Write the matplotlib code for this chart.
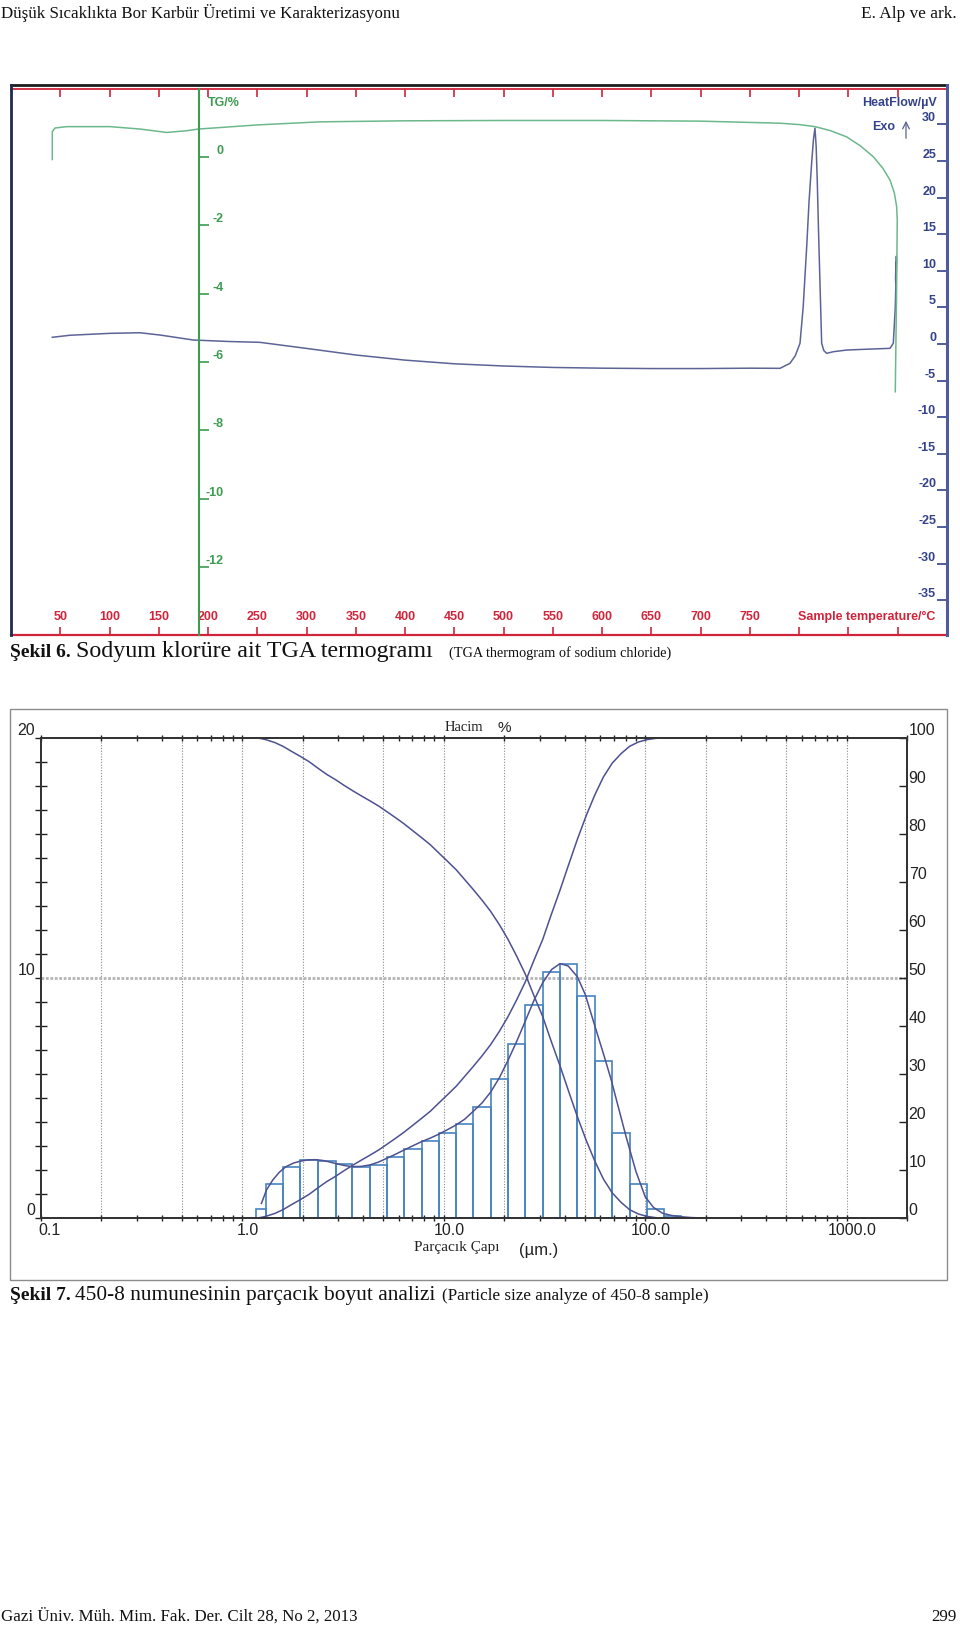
import numpy as np
import matplotlib
matplotlib.use('Agg')
import matplotlib.pyplot as plt
from matplotlib.lines import Line2D
from matplotlib.patches import Rectangle
from matplotlib.ticker import FixedLocator, LogLocator, MultipleLocator, NullFormatter
from matplotlib.transforms import ScaledTranslation

plt.rcParams['font.family'] = ['Liberation Sans', 'DejaVu Sans']

W, H = 960, 1628

# ---------------- Sekil 6 : TGA / DSC ----------------
tg_temp = [41.9, 41.9, 44.7, 56.5, 100.5, 130.9, 158, 178.3, 190.5, 250, 313.6, 400, 500,
           600, 700, 780.5, 800, 816, 832, 848.2, 862, 875.2, 885, 892.1, 896.5, 898.9,
           899.5, 898.8, 897.5]
tg_mass = [-0.08, 0.73, 0.84, 0.88, 0.88, 0.81, 0.71, 0.76, 0.81, 0.93, 1.02, 1.05, 1.06,
           1.06, 1.04, 0.98, 0.94, 0.88, 0.76, 0.58, 0.32, 0.0, -0.34, -0.68, -1.05, -1.46,
           -1.85, -4.0, -6.87]

dsc_temp = [41.9, 60, 100.5, 130.9, 151.2, 185, 220, 252.7, 300, 350, 400, 450, 500, 550,
            600, 650, 700, 750, 780.5, 790.6, 796, 800.8, 804, 807.6, 810, 812.6, 814.5, 816,
            817.2, 818.3, 819.7, 821, 822.8, 825, 827.9, 834.6, 848.2, 870, 892.1, 895.5,
            897.5, 898.2, 898.9, 898.6, 898.2, 897.8, 898.0]
dsc_flow = [0.92, 1.2, 1.46, 1.54, 1.23, 0.55, 0.35, 0.23, -0.6, -1.5, -2.2, -2.7, -3.0,
            -3.2, -3.3, -3.35, -3.35, -3.3, -3.32, -2.64, -1.6, 0.1, 5.0, 13.3, 19.5, 24.7,
            28.0, 29.5, 27.0, 22.4, 15.0, 8.7, 0.1, -0.9, -1.27, -1.05, -0.82, -0.7, -0.59,
            0.1, 5.0, 8.74, 11.5, 12.0, 11.0, 9.0, 8.2]

temp_ticks = list(range(50, 901, 50))
temp_labels = [str(t) if t <= 750 else '' for t in temp_ticks]
tg_ticks = [0, -2, -4, -6, -8, -10, -12]
hf_ticks = [30, 25, 20, 15, 10, 5, 0, -5, -10, -15, -20, -25, -30, -35]

# ---------------- Sekil 7 : particle size ----------------
bin_edges = [1.177, 1.309, 1.595, 1.946, 2.378, 2.911, 3.524, 4.292, 5.229, 6.350, 7.770,
             9.467, 11.55, 13.96, 17.08, 20.82, 25.42, 31.00, 37.81, 46.12, 56.26, 68.62,
             83.70, 102.1, 124.5, 151.2]
bin_freq = [0.39, 1.41, 2.12, 2.43, 2.40, 2.25, 2.13, 2.23, 2.54, 2.87, 3.22, 3.54, 3.94,
            4.65, 5.78, 7.25, 8.89, 10.26, 10.58, 9.25, 6.56, 3.54, 1.41, 0.39, 0.08]

freq_size = [1.246, 1.32, 1.42, 1.53, 1.65, 1.80, 1.95, 2.12, 2.30, 2.50, 2.70, 2.91, 3.20,
             3.52, 3.90, 4.30, 4.75, 5.23, 5.75, 6.35, 7.00, 7.77, 8.60, 9.46, 10.4, 11.5,
             12.7, 13.97, 15.5, 17.1, 18.9, 20.8, 23.0, 25.4, 28.0, 31.0, 34.3, 37.8, 41.5,
             46.1, 50.5, 56.3, 61.8, 67.8, 74.0, 80.4, 90.0, 100.0, 110.0, 122.0, 135.0,
             148.0, 170.0, 200.0, 300.0]
freq_val = [0.62, 1.18, 1.60, 1.92, 2.15, 2.30, 2.38, 2.43, 2.44, 2.41, 2.35, 2.28, 2.20,
            2.15, 2.16, 2.22, 2.34, 2.50, 2.66, 2.84, 3.01, 3.19, 3.34, 3.50, 3.68, 3.88,
            4.12, 4.44, 4.80, 5.25, 5.85, 6.55, 7.35, 8.20, 9.05, 9.80, 10.35, 10.60, 10.50,
            10.05, 9.30, 8.00, 6.90, 5.77, 4.55, 3.40, 1.95, 0.90, 0.45, 0.21, 0.12, 0.07,
            0.03, 0.01, 0.0]

pass_size = [1.13, 1.177, 1.246, 1.309, 1.45, 1.595, 1.75, 1.946, 2.15, 2.378, 2.62, 2.911,
             3.2, 3.524, 3.9, 4.292, 4.75, 5.229, 5.75, 6.35, 7.0, 7.77, 8.6, 9.467, 10.5,
             11.55, 12.7, 13.96, 15.5, 17.08, 18.9, 20.82, 23.0, 25.42, 28.0, 31.0, 34.2,
             37.81, 41.8, 46.12, 51.0, 56.26, 62.0, 68.62, 76.0, 83.7, 92.5, 102.1, 112.0,
             124.5, 2000.0]
pass_val = [0.0, 0.05, 0.2, 0.4, 1.0, 1.8, 2.8, 3.9, 5.0, 6.35, 7.6, 8.75, 9.9, 11.0, 12.1,
            13.1, 14.2, 15.4, 16.6, 17.9, 19.3, 20.8, 22.3, 24.0, 25.8, 27.5, 29.5, 31.5,
            33.8, 36.1, 38.9, 41.9, 45.4, 49.2, 53.6, 58.0, 63.2, 68.3, 73.7, 78.9, 83.8,
            88.1, 91.8, 94.7, 96.7, 98.2, 99.1, 99.6, 99.85, 100.0, 100.0]

ret_size = [1.0, 1.177, 1.246, 1.309, 1.45, 1.595, 1.75, 1.946, 2.15, 2.378, 2.62, 2.911,
            3.2, 3.524, 3.9, 4.292, 4.75, 5.229, 5.75, 6.35, 7.0, 7.77, 8.6, 9.467, 10.5,
            11.55, 12.7, 13.96, 15.5, 17.08, 18.9, 20.82, 23.0, 25.42, 28.0, 31.0, 34.2,
            37.81, 41.8, 46.12, 51.0, 56.26, 62.0, 68.62, 76.0, 83.7, 92.5, 102.1, 112.0,
            124.5, 2000.0]
ret_val = [100.0, 99.95, 99.8, 99.6, 99.0, 98.2, 97.2, 96.1, 95.0, 93.65, 92.4, 91.25, 90.1,
           89.0, 87.9, 86.9, 85.8, 84.6, 83.4, 82.1, 80.7, 79.2, 77.7, 76.0, 74.2, 72.5,
           70.5, 68.5, 66.2, 63.9, 61.1, 58.1, 54.6, 50.8, 46.4, 42.0, 36.8, 31.7, 26.3,
           21.1, 16.2, 11.9, 8.2, 5.3, 3.3, 1.8, 0.9, 0.4, 0.15, 0.0, 0.0]

size_ticks = [0.1, 1, 10, 100, 1000]
size_labels = ['0.1', '1.0', '10.0', '100.0', '1000.0']
size_grid = [0.2, 0.5, 1, 2, 5, 10, 20, 50, 100, 200, 500, 1000]

RED = '#d0243a'
GREEN = '#3e9b52'
GREEN_LINE = '#6cb88c'
NAVY = '#34428a'
BLUE_LINE = '#5c6496'
CURVE = '#4d5190'
BAR = '#4784c0'
SERIF = 'Liberation Serif'

fig = plt.figure(figsize=(W / 100, H / 100), dpi=100)


def px_axes(x0, y0, x1, y1):
    return fig.add_axes([x0 / W, 1 - y1 / H, (x1 - x0) / W, (y1 - y0) / H])


def fig_line(xs, ys, **kw):
    fig.add_artist(Line2D([x / W for x in xs], [1 - y / H for y in ys], **kw))


def shift(artist, dx_px, dy_px=0):
    artist.set_transform(artist.get_transform() +
                         ScaledTranslation(dx_px / 100, dy_px / 100, fig.dpi_scale_trans))


# page header / footer
fig.text(1 / W, 1 - 18 / H, 'Düşük Sıcaklıkta Bor Karbür Üretimi ve Karakterizasyonu',
         family=SERIF, size=12.2, va='baseline', color='#111')
fig.text(957 / W, 1 - 18 / H, 'E. Alp ve ark.', family=SERIF, size=12.4, ha='right',
         va='baseline', color='#111')
fig.text(1 / W, 1 - 1621 / H, 'Gazi Üniv. Müh. Mim. Fak. Der. Cilt 28, No 2, 2013',
         family=SERIF, size=12.2, va='baseline', color='#111')
fig.text(957 / W, 1 - 1621 / H, '299', family=SERIF, size=12.2, ha='right',
         va='baseline', color='#111')

# ---- TGA chart ----
ax = px_axes(11, 89, 947, 635)
axg = ax.twinx()

ax.set_xlim(0, 950)
ax.set_ylim(-39.75, 34.84)
ax.plot(dsc_temp, dsc_flow, color=BLUE_LINE, lw=1.1)

ax.spines['top'].set_color(RED)
ax.spines['bottom'].set_color(RED)
ax.spines['top'].set_linewidth(1.3)
ax.spines['bottom'].set_linewidth(1.6)
ax.spines['left'].set_visible(False)
ax.spines['right'].set_visible(False)
fig_line([11, 947], [85, 85], color='#1c1c1c', lw=2)
fig_line([11, 11], [85, 635], color='#1f2b4d', lw=2)
fig_line([947, 947], [85, 635], color='#4f5b9a', lw=2.2)

ax.set_xticks(temp_ticks)
ax.set_xticklabels(temp_labels)
ax.tick_params(axis='x', direction='in', length=5.5, width=1.2, color=RED, labelcolor=RED,
               labelsize=9, pad=-17.5, top=True)
for lbl in ax.get_xticklabels():
    lbl.set_fontweight('bold')

ax.yaxis.tick_right()
ax.set_yticks(hf_ticks)
ax.set_yticklabels([str(v) for v in hf_ticks])
ax.tick_params(axis='y', direction='in', length=7.2, width=1.2, color=NAVY, labelcolor=NAVY,
               labelsize=9, pad=-7.9, left=False, labelleft=False, right=True,
               labelright=True)
for lbl in ax.get_yticklabels():
    lbl.set_fontweight('bold')
    lbl.set_horizontalalignment('right')
    lbl.set_verticalalignment('bottom')

axg.set_ylim(-13.98, 1.98)
axg.plot(tg_temp, tg_mass, color=GREEN_LINE, lw=1.1)
for s in ['top', 'bottom', 'right']:
    axg.spines[s].set_visible(False)
axg.spines['left'].set_visible(True)
axg.spines['left'].set_position(('data', 190.5))
axg.spines['left'].set_color(GREEN)
axg.spines['left'].set_linewidth(1.5)
axg.yaxis.tick_left()
axg.set_yticks(tg_ticks)
axg.set_yticklabels([str(v) for v in tg_ticks])
axg.tick_params(axis='y', direction='in', length=7.2, width=1.2, color=GREEN,
                labelcolor=GREEN, labelsize=9, pad=-18.2)
for lbl in axg.get_yticklabels():
    lbl.set_fontweight('bold')
    lbl.set_verticalalignment('bottom')

fig.text(208 / W, 1 - 103 / H, 'TG/%', color=GREEN, weight='bold', size=9, va='center')
fig.text(937 / W, 1 - 103 / H, 'HeatFlow/µV', color=NAVY, weight='bold', size=9,
         ha='right', va='center')
fig.text(872 / W, 1 - 127 / H, 'Exo', color=NAVY, weight='bold', size=9, va='center')
ax.annotate('', xy=(906, H - 118), xytext=(906, H - 141), xycoords='figure pixels',
            textcoords='figure pixels',
            arrowprops=dict(arrowstyle='->', color='#5a628f', lw=0.9, mutation_scale=12))
fig.text(935.7 / W, 1 - 617 / H, 'Sample temperature/°C', color=RED, weight='bold', size=9,
         ha='right', va='center')

# caption 6
fig.text(10.4 / W, 1 - 657 / H, 'Şekil 6.', family=SERIF, weight='bold', size=14,
         va='baseline', color='#111')
fig.text(75.8 / W, 1 - 657 / H, 'Sodyum klorüre ait TGA termogramı', family=SERIF,
         size=17.3, va='baseline', color='#111')
fig.text(449 / W, 1 - 657 / H, '(TGA thermogram of sodium chloride)', family=SERIF,
         size=10.3, va='baseline', color='#111')

# ---- particle size chart ----
fig.add_artist(Rectangle((10 / W, 1 - 1280 / H), 937 / W, 571 / H, transform=fig.transFigure,
                         fill=False, ec='#8c8c8c', lw=1))

ax2 = px_axes(40.7, 737.7, 907.3, 1218.3)
ax2r = ax2.twinx()
ax2.set_xscale('log')
ax2.set_xlim(0.1, 2000)
ax2.set_ylim(0, 20)
for g in size_grid:
    ax2.axvline(g, color='#8a8a8a', lw=0.8, ls=(0, (1, 1.5)), zorder=0)
ax2.axhline(10, color='#b4b4b4', lw=2, ls=(0, (1, 0.6)), zorder=0)
ax2.bar(bin_edges[:-1], bin_freq, width=np.diff(bin_edges), align='edge', fill=False,
        edgecolor=BAR, lw=1.2)
ax2.plot(freq_size, freq_val, color=CURVE, lw=1.1)

ax2.xaxis.set_major_locator(FixedLocator(size_ticks))
ax2.set_xticklabels(size_labels)
ax2.xaxis.set_minor_locator(LogLocator(base=10, subs=np.arange(2, 10)))
ax2.xaxis.set_minor_formatter(NullFormatter())
ax2.tick_params(axis='x', which='both', direction='inout', length=5, width=1, color='#222',
                top=True, labelsize=11.5, pad=1, labelcolor='#222')
for i, lbl in enumerate(ax2.get_xticklabels()):
    shift(lbl, 9 if i == 0 else 6)

ax2.set_yticks([0, 10, 20])
ax2.set_yticklabels(['0', '10', '20'])
ax2.yaxis.set_minor_locator(MultipleLocator(1))
ax2.tick_params(axis='y', which='major', direction='out', length=4, width=1, color='#222',
                labelsize=11.5, pad=0, labelcolor='#222')
ax2.tick_params(axis='y', which='minor', direction='inout', length=8.6, width=1,
                color='#222')
for lbl in ax2.get_yticklabels():
    lbl.set_verticalalignment('bottom')

ax2r.set_ylim(0, 100)
ax2r.plot(pass_size, pass_val, color=CURVE, lw=1.1)
ax2r.plot(ret_size, ret_val, color=CURVE, lw=1.1)
ax2r.set_yticks(list(range(0, 101, 10)))
ax2r.set_yticklabels([str(v) for v in range(0, 101, 10)])
ax2r.tick_params(axis='y', direction='in', length=5.8, width=1, color='#222', labelsize=11.5,
                 pad=1, labelcolor='#222')
for lbl in ax2r.get_yticklabels():
    lbl.set_verticalalignment('bottom')
for a in (ax2, ax2r):
    for s in a.spines.values():
        s.set_color('#333')
        s.set_linewidth(1.3)

fig.text(464 / W, 1 - 727 / H, 'Hacim', family=SERIF, size=10.5, ha='center', va='center',
         color='#222')
fig.text(504 / W, 1 - 728 / H, '%', size=11, ha='center', va='center', color='#222')
fig.text(457 / W, 1 - 1247 / H, 'Parçacık Çapı', family=SERIF, size=11, ha='center',
         va='center', color='#222')
fig.text(539 / W, 1 - 1251 / H, '(µm.)', size=12, ha='center', va='center', color='#222')

# caption 7
fig.text(10.4 / W, 1 - 1300 / H, 'Şekil 7.', family=SERIF, weight='bold', size=14,
         va='baseline', color='#111')
fig.text(74.7 / W, 1 - 1300 / H, '450-8 numunesinin parçacık boyut analizi', family=SERIF,
         size=15.4, va='baseline', color='#111')
fig.text(442 / W, 1 - 1300 / H, '(Particle size analyze of 450-8 sample)', family=SERIF,
         size=12.3, va='baseline', color='#111')

fig.savefig('out.png', dpi=100)
